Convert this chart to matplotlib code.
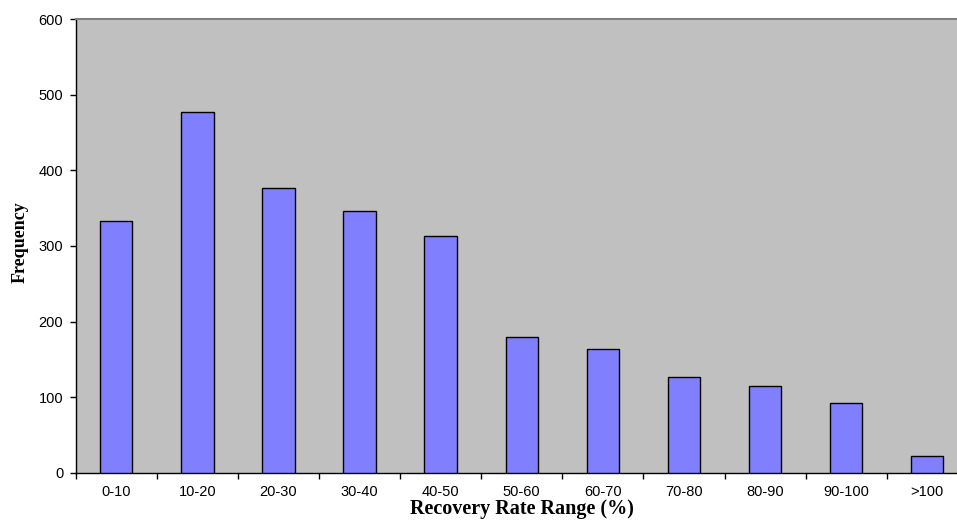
import numpy as np
import matplotlib.pyplot as plt

ranges = ["0-10", "10-20", "20-30", "30-40", "40-50", "50-60",
          "60-70", "70-80", "80-90", "90-100", ">100"]
frequency = [333, 477, 377, 346, 313, 180, 164, 127, 115, 92, 23]

fig = plt.figure(figsize=(9.57, 5.22), dpi=100)
# plot area runs slightly past the right edge of the canvas
ax = fig.add_axes([0.0791, 0.0939, 0.9322, 0.8697])
ax.set_facecolor("#C0C0C0")

x = np.arange(len(ranges))
ax.bar(x, frequency, width=0.40, color="#8080FF", edgecolor="black", linewidth=1.0, zorder=3)

ax.set_xlim(-0.5, len(ranges) - 0.5)
ax.set_ylim(0, 600)
ax.set_yticks(range(0, 601, 100))

# labels centred under bars, tick marks between categories
ax.set_xticks(x)
ax.set_xticklabels(ranges, fontsize=10.5, family="Liberation Sans")
ax.set_xticks(np.arange(-0.5, len(ranges)), minor=True)
ax.tick_params(axis="x", which="major", length=0, pad=9)
ax.tick_params(axis="x", which="minor", length=4, width=1, direction="out")
ax.tick_params(axis="y", length=4, width=1, direction="out", pad=5)
for lbl in ax.get_yticklabels():
    lbl.set_fontsize(10.5)
    lbl.set_family("Liberation Sans")

ax.spines["top"].set_color("#808080")
ax.spines["top"].set_linewidth(1.5)
ax.spines["right"].set_visible(False)
ax.spines["left"].set_linewidth(1.0)
ax.spines["bottom"].set_linewidth(1.0)

fig.text(0.5452, 0.006, "Recovery Rate Range (%)", ha="center", va="bottom",
         fontsize=14.5, fontweight="bold", family="Liberation Serif")
fig.text(0.021, 0.537, "Frequency", ha="center", va="center", rotation=90,
         fontsize=13, fontweight="bold", family="Liberation Serif")

fig.savefig("out.png", dpi=100)
